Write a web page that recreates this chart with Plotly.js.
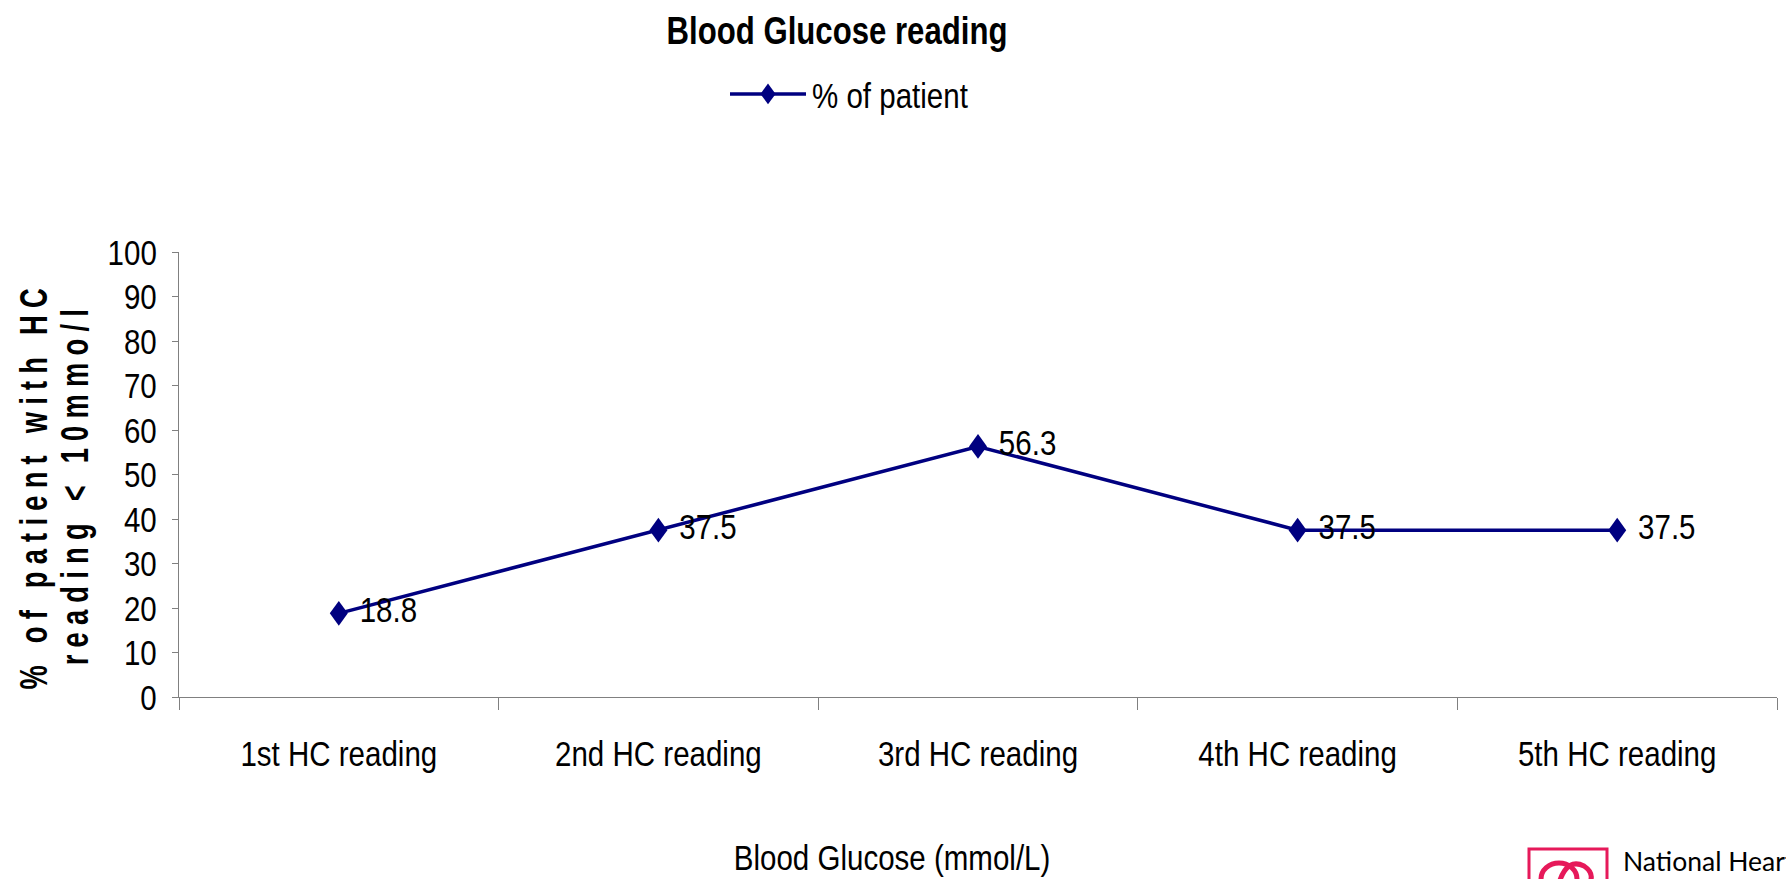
<!DOCTYPE html>
<html>
<head>
<meta charset="utf-8">
<script src="https://cdn.plot.ly/plotly-3.0.1.min.js"></script>
<style>
html,body{margin:0;padding:0;background:#fff;}
#chart{width:1786px;height:879px;}
</style>
</head>
<body>
<div id="chart"></div>
<script>
const categories = ["1st HC reading", "2nd HC reading", "3rd HC reading", "4th HC reading", "5th HC reading"];
const percentPatient = [18.8, 37.5, 56.3, 37.5, 37.5];
const seriesName = "% of patient";
const yTickValues = [0, 10, 20, 30, 40, 50, 60, 70, 80, 90, 100];
const chartTitle = "Blood Glucose reading";
const xTitle = "Blood Glucose (mmol/L)";
const yTitleLines = ["% of patient with HC", "reading < 10mmo/l"];
const logoText = "National Heart";

const FONT = "'Liberation Sans', Arial, sans-serif";
const NAVY = "#000080";
const RED = "#e6195a";
const SQUEEZE = 0.82;

// plot area in pixels
const L = 179, R = 1777, T = 252, B = 697;
const px2paperX = x => (x - L) / (R - L);
const px2paperY = y => (B - y) / (B - T);

const trace = {
  x: categories,
  y: percentPatient,
  name: seriesName,
  type: "scatter",
  mode: "lines+markers+text",
  text: percentPatient.map(v => v.toFixed(1)),
  textposition: "middle right",
  textfont: {family: FONT, size: 36, color: "#000"},
  line: {color: NAVY, width: 3.5},
  marker: {symbol: "diamond", size: 19, color: NAVY},
  cliponaxis: false,
  hoverinfo: "x+y"
};

const layout = {
  width: 1786,
  height: 879,
  margin: {l: L, r: 1786 - R, t: T, b: 879 - B},
  paper_bgcolor: "#fff",
  plot_bgcolor: "#fff",
  font: {family: FONT, color: "#000", size: 36},
  title: {
    text: "<b>" + chartTitle + "</b>",
    font: {family: FONT, size: 38, color: "#000"},
    x: 837 / 1786, xref: "container", xanchor: "center",
    y: 1 - 31 / 879, yref: "container", yanchor: "middle"
  },
  showlegend: true,
  legend: {
    orientation: "h",
    xref: "container", yref: "container",
    x: 725 / 1786, xanchor: "left",
    y: 1 - 94 / 879, yanchor: "middle",
    itemwidth: 77,
    font: {family: FONT, size: 36, color: "#000"},
    bgcolor: "rgba(0,0,0,0)"
  },
  xaxis: {
    type: "category",
    range: [-0.5, 4.5],
    tickson: "boundaries",
    ticks: "outside",
    ticklen: 12,
    tickcolor: "#808080",
    tickwidth: 1,
    showline: true,
    linecolor: "#808080",
    linewidth: 1,
    showgrid: false,
    zeroline: false,
    tickfont: {family: FONT, size: 36, color: "#000"},
    ticklabelstandoff: 25,
    fixedrange: true
  },
  yaxis: {
    range: [0, 100],
    tickmode: "array",
    tickvals: yTickValues,
    ticktext: yTickValues.map(String),
    ticks: "outside",
    ticklen: 6,
    tickcolor: "#808080",
    tickwidth: 1,
    showline: true,
    linecolor: "#808080",
    linewidth: 1,
    showgrid: false,
    zeroline: false,
    tickfont: {family: FONT, size: 36, color: "#000"},
    ticklabelstandoff: 8,
    fixedrange: true
  },
  shapes: [
    {type: "rect", xref: "paper", yref: "paper",
     x0: px2paperX(1529), x1: px2paperX(1607),
     y0: px2paperY(890), y1: px2paperY(849),
     line: {color: RED, width: 3}, fillcolor: "rgba(0,0,0,0)"},
    {type: "circle", xref: "paper", yref: "paper",
     x0: px2paperX(1541), x1: px2paperX(1577),
     y0: px2paperY(895), y1: px2paperY(863),
     line: {color: RED, width: 5}, fillcolor: "rgba(0,0,0,0)"},
    {type: "path", xref: "paper", yref: "paper",
     path: "M" + px2paperX(1560) + "," + px2paperY(880) +
           " Q" + px2paperX(1568) + "," + px2paperY(858) + " " + px2paperX(1584) + "," + px2paperY(866) +
           " Q" + px2paperX(1596) + "," + px2paperY(874) + " " + px2paperX(1588) + "," + px2paperY(886),
     line: {color: RED, width: 5}}
  ],
  annotations: [
    {text: xTitle, xref: "paper", yref: "paper",
     x: px2paperX(892), y: px2paperY(857), xanchor: "center", yanchor: "middle",
     showarrow: false, font: {family: FONT, size: 36, color: "#000"}},
    {text: "<b>" + yTitleLines[0] + "</b>", xref: "paper", yref: "paper",
     x: px2paperX(34), y: px2paperY(486), xanchor: "center", yanchor: "middle",
     textangle: -90, showarrow: false, font: {family: FONT, size: 38, color: "#000"}},
    {text: "<b>" + yTitleLines[1] + "</b>", xref: "paper", yref: "paper",
     x: px2paperX(75), y: px2paperY(484), xanchor: "center", yanchor: "middle",
     textangle: -90, showarrow: false, font: {family: FONT, size: 38, color: "#000"}},
    {text: logoText, xref: "paper", yref: "paper",
     x: px2paperX(1621), y: px2paperY(861),
     xanchor: "left", yanchor: "middle", showarrow: false,
     font: {family: "Lato, 'Open Sans', sans-serif", size: 26.5, color: "#000"}}
  ]
};

function squeeze(el, s, dx) {
  const bb = el.getBBox();
  const anchor = el.getAttribute("text-anchor") || "start";
  const cx = anchor === "start" ? bb.x : (anchor === "end" ? bb.x + bb.width : bb.x + bb.width / 2);
  const t = el.getAttribute("transform") || "";
  el.setAttribute("transform", t + " translate(" + ((dx || 0) + cx) + ",0) scale(" + s + ",1) translate(" + (-cx) + ",0)");
}

Plotly.newPlot("chart", [trace], layout, {displayModeBar: false}).then(function (gd) {
  // narrow the chart's text like the original condensed face
  gd.querySelectorAll(".xtick text, .ytick text, .gtitle, .legendtext").forEach(el => squeeze(el, SQUEEZE));
  gd.querySelectorAll(".textpoint text").forEach(el => squeeze(el, SQUEEZE, 8));
  const xt = gd.querySelector('.annotation[data-index="0"] text');
  if (xt) squeeze(xt, SQUEEZE);
  // spaced, condensed bold y title
  [1, 2].forEach(i => {
    const t = gd.querySelector('.annotation[data-index="' + i + '"] text');
    if (t) {
      t.style.letterSpacing = "10px";
      squeeze(t, 0.72);
    }
  });
  // taller, narrower diamond markers
  gd.querySelectorAll(".scatterlayer .points path").forEach(p => {
    p.setAttribute("transform", (p.getAttribute("transform") || "") + " scale(0.73,1)");
  });
  // longer legend sample line as in the original
  const ll = gd.querySelector(".legendlines path");
  if (ll) ll.setAttribute("d", "M5,0h76");
  const lp = gd.querySelector(".legendpoints path");
  if (lp) lp.setAttribute("transform", "translate(43,0) scale(0.73,1)");
});
</script>
</body>
</html>
